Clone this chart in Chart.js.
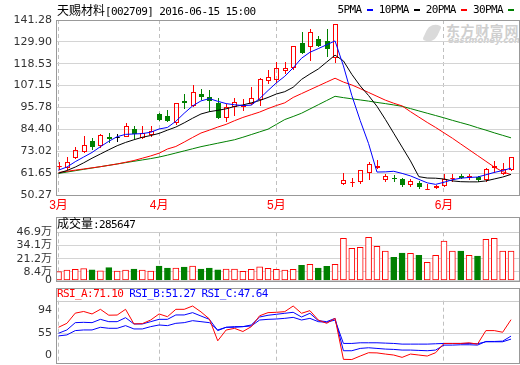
<!DOCTYPE html>
<html>
<head>
<meta charset="utf-8">
<script src="https://cdn.jsdelivr.net/npm/chart.js@4.4.0/dist/chart.umd.min.js"></script>
<style>
  html, body { margin: 0; padding: 0; background: #fff; }
  #wrap { position: relative; width: 520px; height: 365px; overflow: hidden; }
  canvas { position: absolute; left: 0; }
  .txt { position: absolute; white-space: nowrap; font-family: 'DejaVu Sans Mono', monospace; font-size: 11px; letter-spacing: -0.6px; line-height: 12px; color: #000; z-index: 2; }
  .cjk { font-family: 'Noto Sans CJK SC'; font-size: 12px; letter-spacing: 0; }
  .dash { display: inline-block; width: 6px; height: 2px; vertical-align: middle; margin: 0 6px 0 5px; }
  #wm1 { position: absolute; left: 446px; top: 20px; font: bold 14px 'Noto Sans CJK SC'; letter-spacing: 0.6px; color: #cfcfcf; white-space: nowrap; }
  #wm2 { position: absolute; left: 448px; top: 35px; font: bold italic 8.5px 'DejaVu Sans'; color: #cfcfcf; white-space: nowrap; }
  #logo { position: absolute; left: 426px; top: 23px; width: 12px; height: 20px; border-radius: 10px 2px 10px 2px; background: #dadada; transform: rotate(25deg); }
</style>
</head>
<body>
<div id="wrap">
  <div id="logo"></div>
  <div id="wm1">东方财富网</div>
  <div id="wm2">eastmoney.com</div>
  <canvas id="price" width="520" height="214" style="top:0"></canvas>
  <canvas id="vol" width="520" height="80" style="top:214px"></canvas>
  <canvas id="rsi" width="520" height="90" style="top:284px"></canvas>
  <div class="txt" style="left:57px;top:4px"><span class="cjk">天赐材料</span>[002709] 2016-06-15 15:00</div>
  <div class="txt" id="legend" style="right:0;top:4px"></div>
  <div class="txt" style="left:57px;top:217px"><span class="cjk">成交量</span>:285647</div>
  <div class="txt" id="rsiHead" style="left:57px;top:288px"></div>
</div>
<script>
// 日K：3月初到6月15日，共55根
const monthStart = [0, 12, 26, 46];
const monthLabels = ['3月', '4月', '5月', '6月'];

const openP  = [65.3, 64.8, 70.0, 73.4, 78.6, 76.5, 80.2, 80.3, 81.2, 84.7, 80.2, 82.1, 92.6, 91.6, 88.1, 99.4, 97.3, 102.8, 101.1, 98.2, 90.7, 96.4, 96.4, 98.2, 100.3, 110.3, 110.6, 115.3, 116.7, 129.3, 128.0, 131.4, 130.2, 121.9, 56.5, 56.9, 57.3, 62.2, 64.9, 58.7, 59.3, 58.7, 56.1, 56.6, 53.5, 54.3, 55.6, 59.0, 60.4, 59.6, 59.6, 58.7, 64.8, 61.8, 63.6];
const highP  = [67.4, 70.1, 75.2, 80.9, 79.8, 81.8, 82.4, 82.1, 87.6, 86.1, 85.9, 85.9, 93.0, 94.7, 98.2, 102.8, 107.5, 105.4, 104.9, 100.6, 97.6, 100.6, 100.3, 106.3, 111.0, 115.3, 119.6, 119.3, 127.8, 134.9, 136.6, 133.1, 136.6, 139.3, 61.8, 59.2, 63.5, 67.4, 68.6, 61.3, 60.8, 59.1, 58.4, 57.3, 55.8, 55.3, 61.3, 61.3, 61.3, 61.3, 60.1, 64.2, 68.2, 67.0, 70.1];
const lowP   = [63.6, 63.9, 69.4, 72.5, 74.3, 75.2, 77.8, 78.1, 80.9, 79.8, 79.8, 80.9, 89.4, 89.0, 87.3, 95.4, 96.4, 100.3, 94.2, 90.4, 89.0, 92.1, 94.7, 97.5, 97.1, 108.4, 108.9, 113.6, 115.8, 124.2, 120.7, 127.9, 122.8, 119.3, 55.8, 55.2, 56.6, 58.7, 64.4, 57.5, 57.3, 55.2, 54.9, 53.9, 53.5, 53.8, 55.2, 57.8, 59.1, 58.4, 57.8, 57.8, 62.2, 61.3, 63.4];
const closeP = [65.6, 67.4, 73.8, 76.4, 75.5, 81.6, 80.0, 80.3, 86.4, 82.4, 82.4, 83.8, 89.6, 89.3, 98.0, 98.4, 103.7, 101.8, 99.9, 90.6, 95.9, 98.5, 97.3, 100.6, 110.6, 111.5, 116.2, 116.3, 127.6, 124.5, 134.9, 128.3, 126.6, 139.2, 58.2, 57.0, 63.4, 66.5, 65.1, 59.9, 59.1, 55.8, 57.5, 54.9, 53.6, 55.0, 58.7, 59.1, 59.6, 60.1, 58.4, 63.9, 65.1, 63.6, 70.0];

const ma5  = [63.2, 64.8, 67.6, 70.0, 72.4, 75.4, 78.2, 80.6, 81.8, 82.0, 82.2, 82.9, 84.6, 85.4, 88.6, 92.8, 96.6, 99.2, 100.4, 99.0, 97.8, 97.2, 96.8, 97.0, 100.4, 104.6, 108.6, 112.0, 116.4, 121.4, 124.5, 126.4, 128.4, 130.4, 117.4, 102.0, 89.0, 77.0, 62.2, 62.3, 62.6, 61.5, 60.2, 58.4, 56.6, 55.8, 56.9, 58.2, 59.0, 59.4, 59.6, 60.8, 62.0, 63.0, 64.2];
const ma10 = [61.6, 63.0, 64.8, 67.0, 69.4, 71.6, 73.8, 75.9, 77.6, 79.0, 80.3, 81.2, 82.3, 84.0, 85.6, 87.8, 90.2, 92.4, 93.6, 94.3, 95.1, 96.3, 97.1, 98.2, 99.4, 101.0, 102.8, 104.0, 106.3, 110.4, 113.2, 115.8, 119.4, 123.0, 120.0, 113.0, 107.0, 102.0, 96.4, 89.6, 82.4, 75.2, 68.0, 59.8, 59.1, 59.0, 58.6, 57.6, 57.2, 57.1, 57.1, 57.6, 58.6, 59.6, 61.0];
const ma20 = [62.0, 62.6, 63.2, 63.8, 64.4, 65.0, 65.7, 66.4, 67.3, 68.2, 69.4, 70.6, 72.0, 74.2, 75.5, 77.8, 80.2, 82.5, 84.0, 85.6, 87.0, 88.9, 90.6, 92.0, 93.4, 95.2, 96.8, 98.2, 101.0, 103.0, 105.0, 107.0, 109.0, 111.0, 109.0, 107.5, 105.6, 103.6, 101.6, 99.6, 98.0, 96.6, 93.6, 90.8, 88.0, 85.4, 82.6, 79.8, 76.8, 73.8, 70.8, 67.8, 64.8, 62.4, 60.8];
const ma30 = [61.5, 62.2, 62.9, 63.6, 64.3, 65.0, 65.7, 66.4, 67.1, 67.8, 68.5, 69.2, 70.0, 71.0, 72.1, 73.2, 74.3, 75.4, 76.3, 77.2, 78.1, 79.0, 80.3, 81.7, 83.1, 84.5, 87.0, 89.5, 91.1, 92.8, 95.0, 97.2, 99.4, 101.6, 100.9, 100.3, 99.7, 99.1, 98.4, 97.8, 97.1, 96.4, 95.2, 94.0, 92.8, 91.6, 90.4, 89.1, 87.9, 86.7, 85.3, 84.0, 82.6, 81.3, 80.0];

// 成交量（万）
const volume = [8.6, 10.2, 10.9, 11.5, 10.5, 9.5, 12.5, 9.2, 10.2, 11.2, 10.2, 9.2, 14.1, 12.2, 12.2, 13.1, 14.1, 11.2, 12.2, 10.5, 11.2, 11.2, 8.9, 10.9, 13.4, 11.9, 10.9, 10.2, 10.9, 14.8, 15.8, 12.2, 13.8, 15.8, 41.1, 31.3, 32.3, 42.0, 33.3, 28.7, 22.6, 26.8, 26.5, 24.5, 17.7, 24.5, 38.4, 28.7, 28.7, 24.5, 23.8, 40.1, 41.1, 28.7, 28.56];

const rsiA = [61.9, 66.7, 79.0, 81.0, 78.0, 83.6, 76.5, 76.7, 83.6, 66.0, 66.3, 70.7, 78.0, 74.7, 83.6, 83.6, 87.6, 80.5, 72.0, 45.6, 58.6, 60.6, 56.8, 62.6, 75.8, 79.6, 80.0, 80.8, 87.6, 78.8, 82.0, 70.7, 66.7, 72.7, 23.2, 23.0, 27.2, 31.2, 31.0, 29.6, 28.4, 25.6, 29.6, 28.4, 27.2, 31.2, 42.4, 42.4, 42.4, 43.2, 41.6, 57.9, 57.9, 55.9, 71.1];
const rsiB = [54.7, 58.7, 67.5, 67.9, 67.5, 71.5, 68.7, 68.7, 73.5, 65.9, 65.9, 68.7, 71.5, 71.5, 76.8, 76.8, 79.6, 75.5, 71.5, 57.9, 61.9, 62.7, 62.7, 64.7, 74.3, 76.4, 77.6, 78.8, 80.0, 74.3, 78.8, 69.9, 68.7, 72.7, 33.6, 33.6, 36.4, 37.2, 36.4, 35.6, 35.2, 34.4, 34.4, 34.0, 33.6, 34.4, 40.4, 40.4, 40.8, 40.8, 40.4, 44.8, 44.8, 45.2, 51.27];
const rsiC = [51.5, 52.7, 57.9, 58.7, 58.7, 61.9, 60.7, 60.7, 63.9, 59.9, 59.9, 62.7, 64.7, 63.9, 66.7, 67.5, 69.9, 68.7, 67.5, 58.7, 61.9, 61.9, 62.7, 63.5, 70.7, 71.5, 71.9, 72.7, 73.9, 70.7, 72.7, 68.7, 67.9, 70.7, 42.4, 42.4, 43.2, 43.2, 43.2, 42.8, 42.4, 41.6, 41.6, 41.6, 41.6, 42.0, 42.4, 42.4, 42.4, 42.4, 42.0, 44.4, 44.4, 44.4, 47.64];

const priceTicks = ['141.28', '129.90', '118.53', '107.15', '95.78', '84.40', '73.02', '61.65', '50.27'];
const volTickValues = [46.9, 34.1, 21.2, 8.4, 0];
const volTickLabels = ['46.9万', '34.1万', '21.2万', '8.4万', '0'];
const rsiTickAt = [82.8, 55, 28.4];
const rsiTickLabels = ['94', '55', '0'];

const maNames = ['5PMA', '10PMA', '20PMA', '30PMA'];
const maColors = ['#0000ff', '#000000', '#ff0000', '#008000'];
const rsiNames = ['RSI_A:71.10', 'RSI_B:51.27', 'RSI_C:47.64'];
const rsiColors = ['#ff0000', '#0000ff', '#0000ff'];

Chart.defaults.font.family = "'DejaVu Sans', 'Noto Sans CJK SC'";
Chart.defaults.font.size = 11;

document.getElementById('legend').innerHTML = maNames.map((n, i) =>
  n + '<span class="dash" style="background:' + maColors[i] + '"></span>').join('');
document.getElementById('rsiHead').innerHTML = rsiNames.map((n, i) =>
  '<span style="color:' + rsiColors[i] + '">' + n + '</span>').join(' ');

const framePlugin = {
  id: 'frame',
  afterDraw(chart, args, opts) {
    const { ctx, chartArea: a } = chart;
    const head = opts.header || 0;
    const left = Math.round(a.left), right = Math.round(a.right);
    ctx.save();
    ctx.lineWidth = 1;
    if (head) {
      ctx.strokeStyle = '#cccccc';
      ctx.beginPath();
      ctx.moveTo(left, Math.round(a.top) + 0.5);
      ctx.lineTo(right, Math.round(a.top) + 0.5);
      ctx.stroke();
    }
    ctx.strokeStyle = '#999999';
    const top = Math.round(a.top - head);
    ctx.strokeRect(left + 0.5, top + 0.5, right - left, Math.round(a.bottom) - top);
    ctx.restore();
  }
};

const candlePlugin = {
  id: 'candles',
  beforeDatasetsDraw(chart) {
    const { ctx, chartArea: a, scales: { x, y } } = chart;
    ctx.save();
    ctx.beginPath();
    ctx.rect(a.left, a.top, a.right - a.left, a.bottom - a.top);
    ctx.clip();
    ctx.lineWidth = 1;
    openP.forEach((o, i) => {
      const c = closeP[i];
      const cx = Math.round(x.getPixelForValue(i));
      const yo = Math.round(y.getPixelForValue(o));
      const yc = Math.round(y.getPixelForValue(c));
      const yh = Math.round(y.getPixelForValue(highP[i]));
      const yl = Math.round(y.getPixelForValue(lowP[i]));
      const top = Math.min(yo, yc), bot = Math.max(yo, yc);
      const col = c > o ? '#ff0000' : (c < o ? '#008000' : '#000000');
      ctx.strokeStyle = col;
      ctx.fillStyle = col;
      ctx.beginPath();
      ctx.moveTo(cx + 0.5, yh);
      ctx.lineTo(cx + 0.5, top);
      ctx.moveTo(cx + 0.5, bot);
      ctx.lineTo(cx + 0.5, yl + 1);
      ctx.stroke();
      if (c < o) {
        ctx.fillRect(cx - 2, top, 5, bot - top + 1);
      } else {
        ctx.strokeRect(cx - 1.5, top + 0.5, 4, bot - top);
      }
    });
    ctx.restore();
  }
};

function xAxis(showLabels, height) {
  return {
    type: 'linear', min: -0.3, max: 54.95, offset: false,
    afterBuildTicks: s => { s.ticks = monthStart.map(v => ({ value: v })); },
    afterFit: s => { s.height = height; },
    ticks: {
      display: showLabels, autoSkip: false, maxRotation: 0, padding: 3,
      color: '#ff0000', font: { size: 12, family: "'Liberation Sans', 'Noto Sans CJK SC'" },
      callback: (v, i) => monthLabels[i]
    },
    grid: { color: '#c0c0c0', drawTicks: false, offset: false },
    border: { display: false, dash: [4, 3] }
  };
}

function fitY(s) {
  s.width = 56;
  s.paddingTop = 0;
  s.paddingBottom = 0;
}

function yTicksStyle(extra) {
  return Object.assign({ autoSkip: false, padding: 4, color: '#333333' }, extra);
}

const lineDefaults = { borderWidth: 1, pointRadius: 0, tension: 0, fill: false };
const toXY = arr => arr.map((v, i) => ({ x: i, y: v }));

new Chart(document.getElementById('price'), {
  type: 'line',
  data: {
    datasets: [ma5, ma10, ma20, ma30].map((arr, k) => Object.assign({
      label: maNames[k], data: toXY(arr), borderColor: maColors[k]
    }, lineDefaults))
  },
  options: {
    responsive: false, animation: false, events: [],
    layout: { padding: { top: 20, right: 1, left: 0, bottom: 0 } },
    plugins: { legend: { display: false }, tooltip: { enabled: false }, frame: { header: 0 } },
    scales: {
      x: xAxis(true, 19),
      y: {
        min: 50.27, max: 141.28,
        afterBuildTicks: s => { s.ticks = priceTicks.map(t => ({ value: parseFloat(t) })); },
        afterFit: fitY,
        ticks: yTicksStyle({ callback: (v, i) => priceTicks[i] }),
        grid: { color: '#d4d4d4', drawTicks: false },
        border: { display: false }
      }
    }
  },
  plugins: [candlePlugin, framePlugin]
});

new Chart(document.getElementById('vol'), {
  type: 'bar',
  data: {
    datasets: [{
      data: toXY(volume),
      backgroundColor: volume.map((v, i) => closeP[i] >= openP[i] ? '#ffffff' : '#008000'),
      borderColor: volume.map((v, i) => closeP[i] >= openP[i] ? '#ff0000' : '#008000'),
      borderWidth: 1, borderSkipped: false, barThickness: 6
    }]
  },
  options: {
    responsive: false, animation: false, events: [],
    layout: { padding: { top: 18.3, right: 1, left: 0, bottom: 13.5 } },
    plugins: { legend: { display: false }, tooltip: { enabled: false }, frame: { header: 15.6 } },
    scales: {
      x: xAxis(false, 0),
      y: {
        min: 0, max: 46.9,
        afterBuildTicks: s => { s.ticks = volTickValues.map(v => ({ value: v })); },
        afterFit: fitY,
        ticks: yTicksStyle({ callback: (v, i) => volTickLabels[i] }),
        grid: { color: '#d4d4d4', drawTicks: false },
        border: { display: false }
      }
    }
  },
  plugins: [framePlugin]
});

new Chart(document.getElementById('rsi'), {
  type: 'line',
  data: {
    datasets: [rsiA, rsiB, rsiC].map((arr, k) => Object.assign({
      label: rsiNames[k], data: toXY(arr), borderColor: rsiColors[k]
    }, lineDefaults))
  },
  options: {
    responsive: false, animation: false, events: [],
    layout: { padding: { top: 16.7, right: 1, left: 0, bottom: 11 } },
    plugins: { legend: { display: false }, tooltip: { enabled: false }, frame: { header: 12.7 } },
    scales: {
      x: xAxis(false, 0),
      y: {
        min: 18.8, max: 94,
        afterBuildTicks: s => { s.ticks = rsiTickAt.map(v => ({ value: v })); },
        afterFit: fitY,
        ticks: yTicksStyle({ callback: (v, i) => rsiTickLabels[i] }),
        grid: { color: c => (c.tick && c.tick.value === 55 ? '#d4d4d4' : 'rgba(0,0,0,0)'), drawTicks: false },
        border: { display: false }
      }
    }
  },
  plugins: [framePlugin]
});
</script>
</body>
</html>
